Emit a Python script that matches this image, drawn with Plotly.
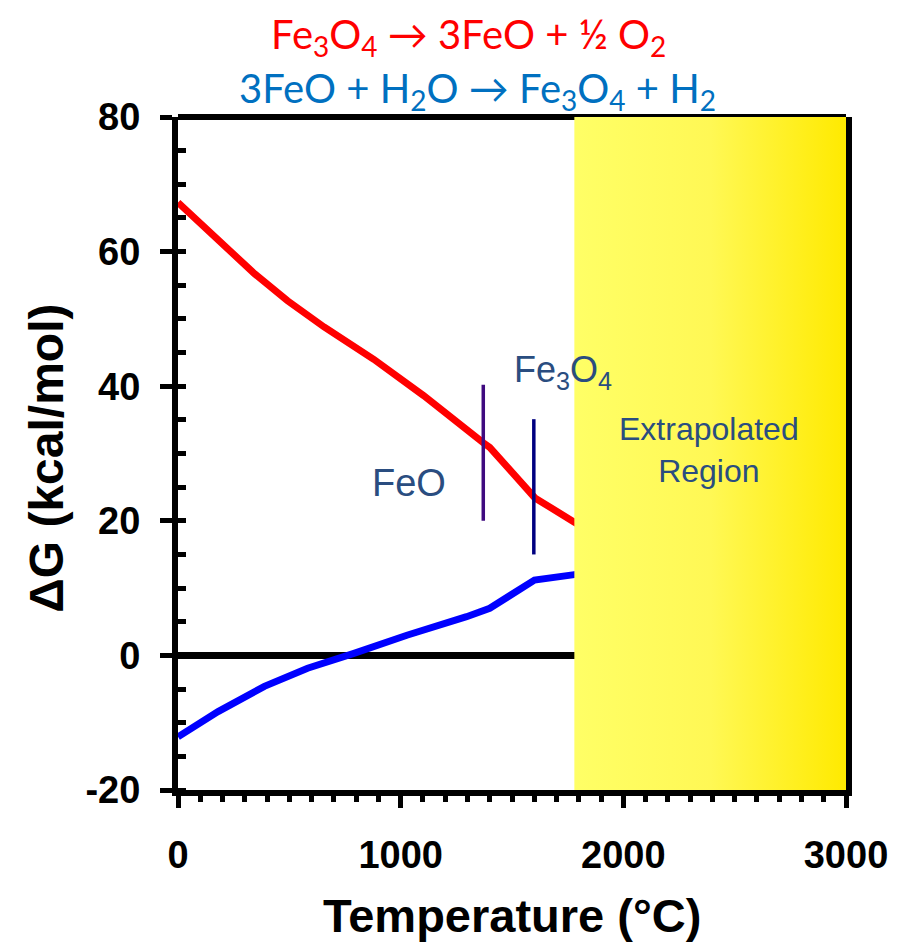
import plotly.graph_objects as go

# ---- data ----
red_T = [0, 165, 344, 492, 656, 879, 1103, 1371, 1400, 1603, 1780, 3000]
red_G = [67.3, 62.2, 56.7, 52.7, 48.8, 44.0, 38.6, 31.6, 30.9, 23.4, 19.8, -2.9]

blue_T = [0, 180, 388, 582, 790, 1028, 1296, 1400, 1601, 1780, 3000]
blue_G = [-12.1, -8.35, -4.6, -1.9, 0.3, 3.0, 5.75, 7.0, 11.2, 12.0, 17.9]

phase_T = [1371, 1598]
phase_low = [20.0, 15.0]
phase_high = [40.2, 35.1]
phase_colors = ["#3F0A7F", "#000080"]

extrap_start = 1780
x_range = [0, 3000]
y_range = [-20, 80]
x_ticks = [0, 1000, 2000, 3000]
x_ticktext = ["0", "1000", "2000", "3000"]
y_ticks = [-20, 0, 20, 40, 60, 80]
y_ticktext = ["-20", "0", "20", "40", "60", "80"]

label_col = "#2A4D80"

fig = go.Figure()

fig.add_trace(go.Scatter(x=red_T, y=red_G, mode="lines",
                         line=dict(color="#FF0000", width=7), hoverinfo="skip"))
fig.add_trace(go.Scatter(x=blue_T, y=blue_G, mode="lines",
                         line=dict(color="#0000FF", width=7), hoverinfo="skip"))

for T, lo, hi, c in zip(phase_T, phase_low, phase_high, phase_colors):
    fig.add_trace(go.Scatter(x=[T, T], y=[lo, hi], mode="lines",
                             line=dict(color=c, width=3.5), hoverinfo="skip"))

# extrapolated region (gradient fill)
fig.add_trace(go.Scatter(
    x=[extrap_start, x_range[1], x_range[1], extrap_start, extrap_start],
    y=[y_range[0], y_range[0], y_range[1], y_range[1], y_range[0]],
    mode="lines", fill="toself", line=dict(width=0),
    fillgradient=dict(type="horizontal",
                      colorscale=[[0, "#FFFF66"], [0.5, "#FFF855"], [1, "#FFEA00"]]),
    hoverinfo="skip"))

# top frame line (under the yellow region)
fig.add_shape(type="line", xref="paper", yref="paper", x0=0, x1=1, y0=1, y1=1,
              line=dict(color="black", width=6), layer="below")

fig.update_layout(
    width=892, height=941,
    margin=dict(l=170, r=48, t=109, b=159),
    plot_bgcolor="white", paper_bgcolor="white",
    showlegend=False,
    font=dict(family="Liberation Sans, Arial, sans-serif", color="black"),
)

fig.update_xaxes(
    range=x_range, tickvals=x_ticks, ticktext=x_ticktext, showgrid=False, zeroline=False,
    showline=True, linecolor="black", linewidth=6, mirror=False,
    ticks="outside", ticklen=12, tickwidth=5, tickcolor="black",
    ticklabelstandoff=14,
    tickfont=dict(size=38, family="Liberation Sans, Arial", weight="bold"),
    minor=dict(dtick=100, ticks="outside", ticklen=6, tickwidth=5, tickcolor="black", showgrid=False),
)
fig.update_yaxes(
    range=y_range, tickvals=y_ticks, ticktext=y_ticktext, showgrid=False,
    zeroline=True, zerolinecolor="black", zerolinewidth=7,
    showline=True, linecolor="black", linewidth=6, mirror=True,
    ticks="outside", ticklen=12, tickwidth=5, tickcolor="black",
    ticklabelstandoff=12,
    tickfont=dict(size=38, family="Liberation Sans, Arial", weight="bold"),
    minor=dict(dtick=5, ticks="inside", ticklen=8, tickwidth=5, tickcolor="black", showgrid=False),
)

# axis titles
fig.add_annotation(text="Temperature (°C)", xref="paper", yref="paper", x=0.5, y=-0.186,
                   xanchor="center", yanchor="middle", showarrow=False,
                   font=dict(size=47, family="Liberation Sans, Arial", weight="bold", color="black"))
fig.add_annotation(text="ΔG (kcal/mol)", xref="paper", yref="paper", x=-0.198, y=0.4933,
                   xanchor="center", yanchor="middle", textangle=-90, showarrow=False,
                   font=dict(size=48, family="Liberation Sans, Arial", weight="bold", color="black"))

# titles
fig.add_annotation(text="Fe<sub>3</sub>O<sub>4</sub> → 3FeO + ½ O<sub>2</sub>",
                   xref="paper", yref="paper", x=0.4345, y=1.12, xanchor="center", yanchor="middle",
                   showarrow=False, font=dict(size=40, family="Lato, sans-serif", color="#FF0000"))
fig.add_annotation(text="3FeO + H<sub>2</sub>O → Fe<sub>3</sub>O<sub>4</sub> + H<sub>2</sub>",
                   xref="paper", yref="paper", x=0.449, y=1.04, xanchor="center", yanchor="middle",
                   showarrow=False, font=dict(size=40, family="Lato, sans-serif", color="#0070C0"))

# in-plot labels
fig.add_annotation(text="FeO", x=1036, y=25.6, showarrow=False, xanchor="center", yanchor="middle",
                   font=dict(size=38, family="Liberation Sans, Arial", color=label_col))
fig.add_annotation(text="Fe<sub>3</sub>O<sub>4</sub>", x=1728, y=42.1, showarrow=False,
                   xanchor="center", yanchor="middle",
                   font=dict(size=36, family="Liberation Sans, Arial", color=label_col))
fig.add_annotation(text="Extrapolated<br>Region", x=2384, y=30.5, showarrow=False,
                   xanchor="center", yanchor="middle",
                   font=dict(size=32, family="Liberation Sans, Arial", color=label_col))

fig.write_html("out.html")
